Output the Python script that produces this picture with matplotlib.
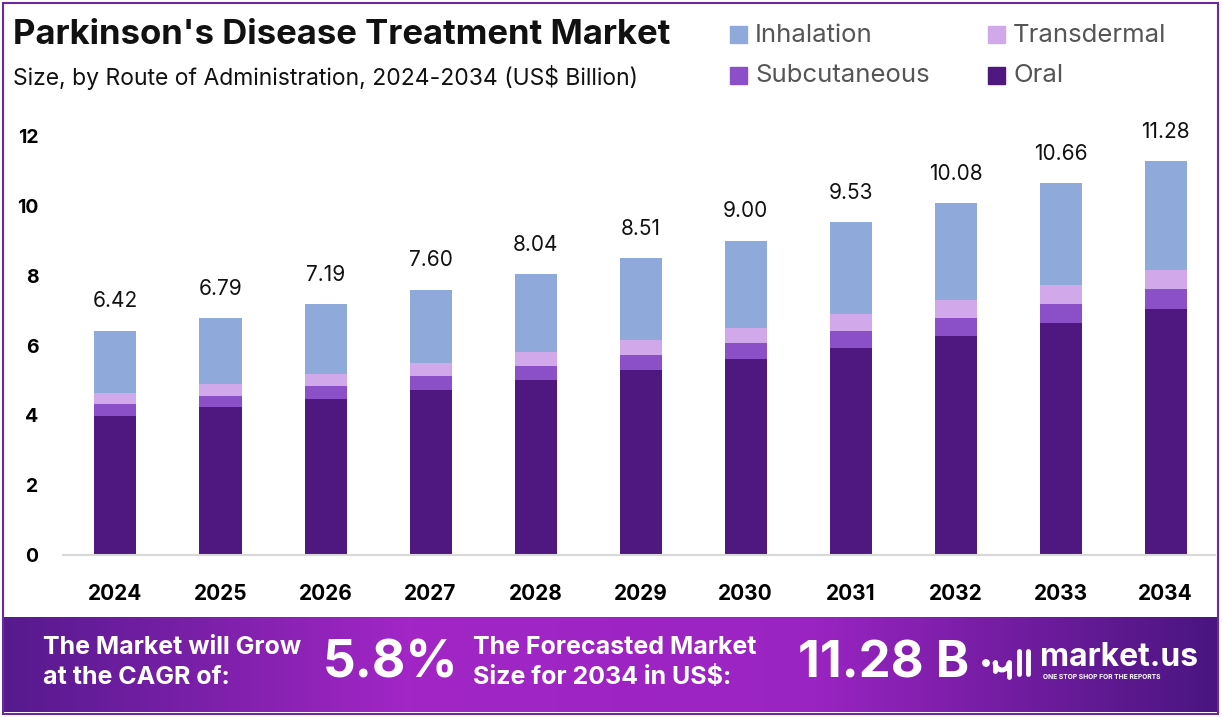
import numpy as np
import matplotlib.pyplot as plt
from matplotlib.colors import LinearSegmentedColormap
from matplotlib.patches import Rectangle, Arc, Circle

years = ["2024", "2025", "2026", "2027", "2028", "2029", "2030", "2031", "2032", "2033", "2034"]
totals = [6.42, 6.79, 7.19, 7.60, 8.04, 8.51, 9.00, 9.53, 10.08, 10.66, 11.28]
oral = [3.99, 4.24, 4.47, 4.73, 5.01, 5.31, 5.62, 5.93, 6.28, 6.65, 7.05]
subcutaneous = [0.34, 0.32, 0.37, 0.40, 0.41, 0.42, 0.45, 0.49, 0.51, 0.54, 0.57]
transdermal = [0.31, 0.34, 0.35, 0.37, 0.40, 0.43, 0.43, 0.49, 0.52, 0.55, 0.55]
inhalation = [1.78, 1.89, 2.00, 2.10, 2.22, 2.35, 2.50, 2.62, 2.77, 2.92, 3.11]
yticks = [0, 2, 4, 6, 8, 10, 12]

cagr = "5.8%"
forecast = "11.28 B"

col_inh = "#8FA9DB"
col_trans = "#D1A9EA"
col_sub = "#8B50C8"
col_oral = "#4F1780"

plt.rcParams['font.family'] = ['Inter', 'DejaVu Sans']

W, H = 1222, 717
fig = plt.figure(figsize=(W / 100, H / 100), dpi=100)

# page border
fig.add_artist(Rectangle((3 / W, 3 / H), 1215 / W, 711 / H, transform=fig.transFigure,
                         fill=False, edgecolor="#6A2A9A", linewidth=1.5))

# main axes
ax = fig.add_axes([63.5 / W, 162 / H, (1215 - 63.5) / W, 436.25 / H])
x = np.arange(len(years))
bw = 0.4
series = [(oral, col_oral, "Oral"), (subcutaneous, col_sub, "Subcutaneous"),
          (transdermal, col_trans, "Transdermal"), (inhalation, col_inh, "Inhalation")]
bottom = np.zeros(len(years))
for vals, c, name in series:
    ax.bar(x, vals, bw, bottom=bottom, color=c, label=name, zorder=2)
    bottom += np.array(vals)

for i, t in enumerate(totals):
    ax.annotate(f"{t:.2f}", (x[i], bottom[i]), xytext=(0, 14), textcoords="offset points",
                ha="center", va="bottom", fontsize=15, color="#111111")

ax.set_xlim(-0.495, 10.47)
ax.set_ylim(0, 12.5)
ax.set_xticks(x)
ax.set_xticklabels(years, fontsize=15, fontweight="bold")
ax.set_yticks(yticks)
ax.set_yticklabels([str(v) for v in yticks], fontsize=14, fontweight="bold")
ax.tick_params(axis="y", length=0, pad=18)
ax.tick_params(axis="x", length=0, pad=21)
for s in ["top", "right", "left"]:
    ax.spines[s].set_visible(False)
ax.spines["bottom"].set_color("#D8D8D8")
ax.spines["bottom"].set_linewidth(1.5)

# title
fig.text(13 / W, 1 - 35 / H, "Parkinson's Disease Treatment Market", fontsize=25,
         fontweight="bold", va="center", ha="left", color="#111111")
fig.text(13 / W, 1 - 77 / H, "Size, by Route of Administration, 2024-2034 (US$ Billion)",
         fontsize=16.5, va="center", ha="left", color="#111111")

# legend
leg_items = [("Inhalation", col_inh, 730, 35), ("Transdermal", col_trans, 988, 35),
             ("Subcutaneous", col_sub, 730, 76), ("Oral", col_oral, 988, 76)]
for name, c, lx, ly in leg_items:
    fig.add_artist(Rectangle((lx / W, 1 - (ly + 8) / H), 17 / W, 17 / H,
                             transform=fig.transFigure, color=c))
    fig.text((lx + 25) / W, 1 - ly / H, name, fontsize=18.5, va="center", ha="left",
             color="#555555")

# footer band with gradient
fax = fig.add_axes([3 / W, 5 / H, 1215 / W, 95 / H])
cmap = LinearSegmentedColormap.from_list("band", ["#561A8E", "#A226C6", "#9A24C2", "#4A1580"])
grad = np.linspace(0, 1, 256).reshape(1, -1)
fax.imshow(grad, aspect="auto", cmap=cmap, extent=[3, 1218, 712, 617])
fax.set_xlim(3, 1218)
fax.set_ylim(712, 617)
fax.axis("off")

txt = dict(color="white", fontweight="bold", va="center", ha="left")
fax.text(43, 648, "The Market will Grow", fontsize=18, **txt)
fax.text(43, 678, "at the CAGR of:", fontsize=18, **txt)
fax.text(323, 664, cagr, fontsize=37, **txt)
fax.text(473, 648, "The Forecasted Market", fontsize=18, **txt)
fax.text(473, 678, "Size for 2034 in US$:", fontsize=18, **txt)
fax.text(798, 664, forecast, fontsize=36.5, **txt)

# logo mark
fax.add_patch(Circle((986, 663), 3.2, color="white"))
fax.add_patch(Arc((1002, 662), 14, 16, theta1=0, theta2=180, color="white", lw=3.5))
fax.plot([995, 995], [662, 671], color="white", lw=3.5, solid_capstyle="round")
fax.plot([1009, 1009], [662, 677], color="white", lw=3.5, solid_capstyle="round")
fax.plot([1019, 1019], [651, 674], color="white", lw=3.5, solid_capstyle="round")
fax.plot([1028, 1028], [651, 674], color="white", lw=3.5, solid_capstyle="round")
fax.text(1040, 658, "market.us", fontsize=23, **txt)
fax.text(1043, 677, "ONE STOP SHOP FOR THE REPORTS", fontsize=4.8, **txt)

fig.savefig("out.png", dpi=100)
